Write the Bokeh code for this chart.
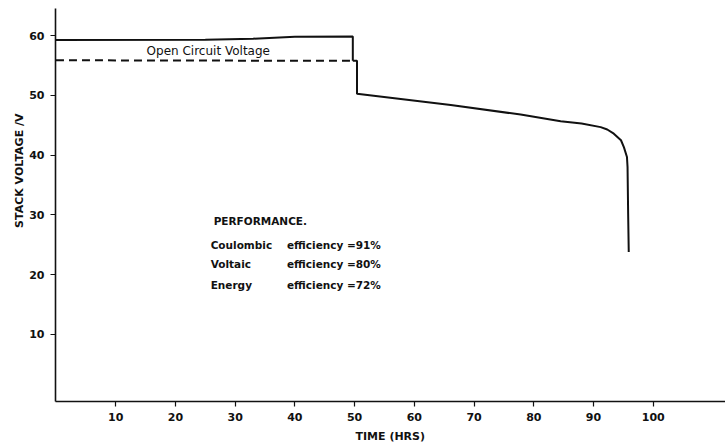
from bokeh.plotting import figure
from bokeh.models import Range1d, FixedTicker, Label, Title
from bokeh.embed import file_html
from bokeh.resources import INLINE

# ---- data ----
ocv_t = [0, 25, 33, 40, 49.7, 49.7]
ocv_v = [59.3, 59.35, 59.5, 59.85, 59.9, 55.8]

dash_t = [0, 49.7]
dash_v = [55.9, 55.8]

dis_t = [49.7, 50.4, 50.4, 66.1, 77.8, 84.5, 88.0, 91.2, 92.3, 93.4, 94.6, 95.1, 95.6, 95.7, 95.8, 95.9]
dis_v = [55.8, 55.8, 50.3, 48.4, 46.8, 45.7, 45.3, 44.7, 44.3, 43.6, 42.5, 41.3, 39.7, 38.0, 30.2, 23.8]

x_ticks = [10, 20, 30, 40, 50, 60, 70, 80, 90, 100]
y_ticks = [10, 20, 30, 40, 50, 60]

perf_names = ["Coulombic", "Voltaic", "Energy"]
perf_values = [91, 80, 72]

FONT = "DejaVu Sans"
INK = "#111111"

p = figure(width=725, height=447, output_backend="svg", toolbar_location=None,
           x_range=Range1d(-0.08, 112.1), y_range=Range1d(-1.26, 64.57),
           min_border_left=55, min_border_right=0, min_border_top=8, min_border_bottom=46)
p.outline_line_color = None
p.grid.visible = False
p.background_fill_color = "white"

for ax in (p.xaxis[0], p.yaxis[0]):
    ax.axis_line_color = INK
    ax.axis_line_width = 1.6
    ax.major_tick_line_color = INK
    ax.major_tick_line_width = 1.2
    ax.major_tick_out = 5
    ax.major_tick_in = 0
    ax.minor_tick_line_color = None
    ax.major_label_text_font = FONT
    ax.major_label_text_font_style = "bold"
    ax.major_label_text_font_size = "11px"
    ax.major_label_text_color = INK
    ax.major_label_standoff = 6

p.xaxis[0].ticker = FixedTicker(ticks=x_ticks)
p.yaxis[0].ticker = FixedTicker(ticks=y_ticks)

p.line(ocv_t, ocv_v, line_color=INK, line_width=2)
p.line(dash_t, dash_v, line_color=INK, line_width=2, line_dash="8 5")
p.line(dis_t, dis_v, line_color=INK, line_width=2)

def lab(x, y, text, size="11px", align="left", style="bold"):
    p.add_layout(Label(x=x, y=y, text=text, text_font=FONT, text_font_size=size,
                       text_font_style=style, text_color=INK, text_align=align,
                       text_baseline="middle"))

lab(25.5, 57.5, "Open Circuit Voltage", size="12px", align="center", style="normal")
lab(26.4, 28.9, "PERFORMANCE.", size="10.5px", style="bold")
rows_y = [25.0, 21.7, 18.3]
for name, val, yy in zip(perf_names, perf_values, rows_y):
    lab(25.9, yy, name, size="10.5px")
    lab(54.4, yy, "efficiency =%d%%" % val, size="10.5px", align="right")

p.add_layout(Title(text="TIME (HRS)", align="left", offset=300, standoff=8,
                   text_font=FONT, text_font_size="11px", text_font_style="bold",
                   text_color=INK), "below")
p.add_layout(Title(text="STACK VOLTAGE /V", align="right", offset=105, standoff=2,
                   text_font=FONT, text_font_size="11px", text_font_style="bold",
                   text_color=INK), "left")

open("out.html", "w").write(file_html(p, INLINE))
